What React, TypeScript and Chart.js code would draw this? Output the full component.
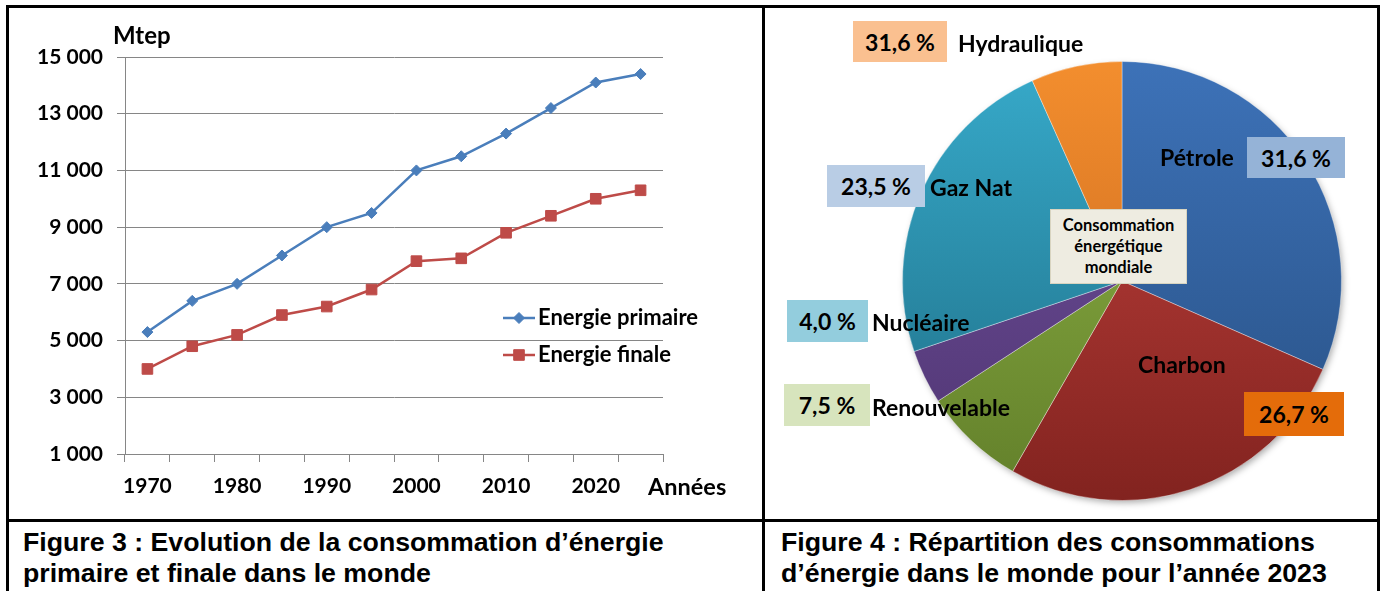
import React, { useEffect, useRef } from 'react';
import { Chart, registerables } from 'chart.js';
import { drawPoint } from 'chart.js/helpers';

Chart.register(...registerables);

// ---------- Data ----------
const years = ['1970', '1975', '1980', '1985', '1990', '1995', '2000', '2005', '2010', '2015', '2020', '2025'];
const primaryEnergy = [5300, 6400, 7000, 8000, 9000, 9500, 11000, 11500, 12300, 13200, 14100, 14400];
const finalEnergy = [4000, 4800, 5200, 5900, 6200, 6800, 7800, 7900, 8800, 9400, 10000, 10300];
const seriesNames = ['Energie primaire', 'Energie finale'];
const yMin = 1000;
const yMax = 15000;
const yStep = 2000;

const pieLabels = ['Pétrole', 'Charbon', 'Renouvelable', 'Nucléaire', 'Gaz Nat', 'Hydraulique'];
const pieValues = [31.6, 26.7, 7.5, 4.0, 23.5, 6.7];
const piePctText = ['31,6 %', '26,7 %', '7,5 %', '4,0 %', '23,5 %', '31,6 %'];

// ---------- Styles ----------
const pieTop = ['#3D72B8', '#C4433F', '#90B547', '#7252A0', '#37AACA', '#F38E2E'];
const pieBottom = ['#274F82', '#82231F', '#627F2A', '#4E3470', '#1D6B83', '#C0601A'];
const FONT = 'Lato, "Open Sans", sans-serif';

const fmt = (v: number) => String(v).replace(/\B(?=(\d{3})+(?!\d))/g, ' ');

const lineLegendPlugin = {
  id: 'lineLegend',
  afterDraw(chart: any, _args: any, opts: any) {
    const { ctx } = chart;
    chart.data.datasets.forEach((ds: any, i: number) => {
      const x = opts.x;
      const y = opts.y + i * opts.gap;
      ctx.save();
      ctx.strokeStyle = ds.borderColor;
      ctx.lineWidth = ds.borderWidth;
      ctx.beginPath();
      ctx.moveTo(x, y);
      ctx.lineTo(x + opts.lineLen, y);
      ctx.stroke();
      ctx.fillStyle = ds.pointBackgroundColor;
      ctx.strokeStyle = ds.pointBorderColor;
      ctx.lineWidth = 1;
      drawPoint(ctx, { pointStyle: ds.pointStyle, rotation: 0, radius: ds.pointRadius, borderWidth: 1 } as any, x + opts.lineLen / 2, y);
      ctx.fillStyle = '#000';
      ctx.font = `bold ${opts.fontSize}px ${FONT}`;
      ctx.textBaseline = 'middle';
      ctx.textAlign = 'left';
      ctx.fillText(ds.label, x + opts.lineLen + 3, y);
      ctx.restore();
    });
  },
};

const pieShadowPlugin = {
  id: 'pieShadow',
  beforeDatasetsDraw(chart: any) {
    const arc = chart.getDatasetMeta(0).data[0];
    if (!arc) return;
    const { x, y, outerRadius } = arc.getProps(['x', 'y', 'outerRadius'], true);
    const ctx = chart.ctx;
    ctx.save();
    ctx.shadowColor = 'rgba(0,0,0,0.35)';
    ctx.shadowBlur = 7;
    ctx.shadowOffsetX = 2;
    ctx.shadowOffsetY = 3;
    ctx.fillStyle = '#ffffff';
    ctx.beginPath();
    ctx.arc(x, y, outerRadius - 1, 0, Math.PI * 2);
    ctx.fill();
    ctx.restore();
  },
};

function LineChart() {
  const ref = useRef<HTMLCanvasElement>(null);
  useEffect(() => {
    if (!ref.current) return;
    const tickFont = { family: FONT, weight: 'bold' as const, size: 21 };
    const chart = new Chart(ref.current, {
      type: 'line',
      data: {
        labels: years,
        datasets: [
          {
            label: seriesNames[0],
            data: primaryEnergy,
            borderColor: '#4A7EBB',
            backgroundColor: '#4A7EBB',
            borderWidth: 2.5,
            pointStyle: 'rectRot',
            pointRadius: 5.5,
            pointBackgroundColor: '#4A7EBB',
            pointBorderColor: '#4A7EBB',
            pointBorderWidth: 1,
            tension: 0,
          },
          {
            label: seriesNames[1],
            data: finalEnergy,
            borderColor: '#BE4B48',
            backgroundColor: '#BE4B48',
            borderWidth: 2.5,
            pointStyle: 'rect',
            pointRadius: 7.5,
            pointBackgroundColor: '#BE4B48',
            pointBorderColor: '#BE4B48',
            pointBorderWidth: 1,
            tension: 0,
          },
        ],
      },
      options: {
        responsive: false,
        animation: false,
        layout: { padding: { left: 0, right: 99, top: 49, bottom: 0 } },
        plugins: {
          legend: { display: false },
          tooltip: { enabled: false },
          lineLegend: { x: 494, y: 310, gap: 37, lineLen: 32, fontSize: 22 },
        } as any,
        scales: {
          x: {
            type: 'category',
            offset: true,
            grid: { offset: true, drawOnChartArea: false, drawTicks: true, tickLength: 8, color: '#868686', lineWidth: 1 },
            border: { color: '#868686', width: 1 },
            ticks: {
              autoSkip: false,
              maxRotation: 0,
              padding: 12,
              color: '#000',
              font: tickFont,
              callback: function (this: any, v: any, i: number) {
                return i % 2 === 0 ? this.getLabelForValue(v) : '';
              },
            },
            afterFit: (s: any) => {
              s.height = 65;
            },
          },
          y: {
            min: yMin,
            max: yMax,
            grid: { color: '#868686', lineWidth: 1, tickLength: 8, drawTicks: true },
            border: { color: '#868686', width: 1 },
            ticks: {
              stepSize: yStep,
              padding: 14,
              color: '#000',
              font: tickFont,
              callback: (v: any) => fmt(Number(v)),
            },
            afterFit: (s: any) => {
              s.width = 116;
            },
          },
        },
      },
      plugins: [lineLegendPlugin],
    });
    return () => chart.destroy();
  }, []);
  return <canvas ref={ref} width={753} height={511} style={{ position: 'absolute', left: 9, top: 8, width: 753, height: 511 }} />;
}

function PieChart() {
  const ref = useRef<HTMLCanvasElement>(null);
  useEffect(() => {
    if (!ref.current) return;
    const chart = new Chart(ref.current, {
      type: 'pie',
      data: {
        labels: pieLabels,
        datasets: [
          {
            data: pieValues,
            backgroundColor: (c: any) => {
              const i = c.dataIndex;
              const area = c.chart.chartArea;
              if (!area) return pieTop[i];
              const g = c.chart.ctx.createLinearGradient(0, area.top, 0, area.bottom);
              g.addColorStop(0, pieTop[i]);
              g.addColorStop(1, pieBottom[i]);
              return g;
            },
            borderColor: 'rgba(255,255,255,0.35)',
            borderWidth: 1,
          },
        ],
      },
      options: {
        responsive: false,
        animation: false,
        layout: { padding: { left: 137, right: 35, top: 53, bottom: 18 } },
        plugins: { legend: { display: false }, tooltip: { enabled: false } },
      },
      plugins: [pieShadowPlugin],
    });
    return () => chart.destroy();
  }, []);
  return <canvas ref={ref} width={612} height={511} style={{ position: 'absolute', left: 765, top: 8, width: 612, height: 511 }} />;
}

const lbl: React.CSSProperties = {
  position: 'absolute',
  fontFamily: FONT,
  fontWeight: 'bold',
  fontSize: 23,
  color: '#000',
  whiteSpace: 'nowrap',
  height: 30,
  lineHeight: '30px',
};

function TextAt({ left, cy, text, size }: { left: number; cy: number; text: string; size?: number }) {
  return <div style={{ ...lbl, left, top: cy - 15, fontSize: size ?? 23 }}>{text}</div>;
}

function Box({ left, top, w, h, bg, text }: { left: number; top: number; w: number; h: number; bg: string; text: string }) {
  return (
    <div
      style={{
        position: 'absolute',
        left,
        top,
        width: w,
        height: h,
        background: bg,
        display: 'flex',
        alignItems: 'center',
        justifyContent: 'center',
        fontFamily: FONT,
        fontWeight: 'bold',
        fontSize: 23,
        color: '#000',
        whiteSpace: 'nowrap',
      }}
    >
      {text}
    </div>
  );
}

const line = (left: number, top: number, width: number, height: number) => (
  <div style={{ position: 'absolute', left, top, width, height, background: '#000' }} />
);

const caption: React.CSSProperties = {
  position: 'absolute',
  top: 527,
  fontFamily: '"Liberation Sans", Arial, sans-serif',
  fontWeight: 'bold',
  fontSize: 26.7,
  lineHeight: '31px',
  color: '#000',
  whiteSpace: 'nowrap',
};

export default function App() {
  return (
    <div style={{ position: 'absolute', left: 0, top: 0, width: 1383, height: 591, background: '#fff', overflow: 'hidden' }}>
      <LineChart />
      <PieChart />

      {/* line chart texts */}
      <TextAt left={113} cy={35} text="Mtep" size={24} />
      <TextAt left={648} cy={486} text="Années" size={23.5} />

      {/* pie labels */}
      <Box left={853} top={21} w={94} h={41} bg="#FAC090" text={piePctText[5]} />
      <TextAt left={958} cy={43} text={pieLabels[5]} />
      <TextAt left={1160} cy={157} text={pieLabels[0]} />
      <Box left={1247} top={137} w={98} h={41} bg="#95B3D7" text={piePctText[0]} />
      <Box left={827} top={165} w={98} h={42} bg="#B9CDE5" text={piePctText[4]} />
      <TextAt left={930} cy={187} text={pieLabels[4]} />
      <Box left={787} top={300} w={81} h={42} bg="#93CDDD" text={piePctText[3]} />
      <TextAt left={872} cy={322} text={pieLabels[3]} />
      <Box left={784} top={384} w={86} h={42} bg="#D7E4BD" text={piePctText[2]} />
      <TextAt left={872} cy={407} text={pieLabels[2]} />
      <TextAt left={1138} cy={364} text={pieLabels[1]} />
      <Box left={1244} top={392} w={100} h={44} bg="#E46C0A" text={piePctText[1]} />
      <div
        style={{
          position: 'absolute',
          left: 1050,
          top: 209,
          width: 137,
          height: 75,
          boxSizing: 'border-box',
          background: '#EEECE1',
          border: '1px solid #D8D4C0',
          fontFamily: FONT,
          fontWeight: 'bold',
          fontSize: 16.5,
          lineHeight: '21px',
          color: '#000',
          textAlign: 'center',
          paddingTop: 5,
        }}
      >
        Consommation
        <br />
        énergétique
        <br />
        mondiale
      </div>

      {/* frame */}
      {line(6, 5, 1374, 3)}
      {line(6, 5, 3, 586)}
      {line(1377, 5, 3, 586)}
      {line(762, 5, 3, 586)}
      {line(6, 519, 1374, 3)}

      {/* captions */}
      <div style={{ ...caption, left: 23 }}>
        Figure 3 : Evolution de la consommation d’énergie
        <br />
        primaire et finale dans le monde
      </div>
      <div style={{ ...caption, left: 781 }}>
        Figure 4 : Répartition des consommations
        <br />
        d’énergie dans le monde pour l’année 2023
      </div>
    </div>
  );
}
